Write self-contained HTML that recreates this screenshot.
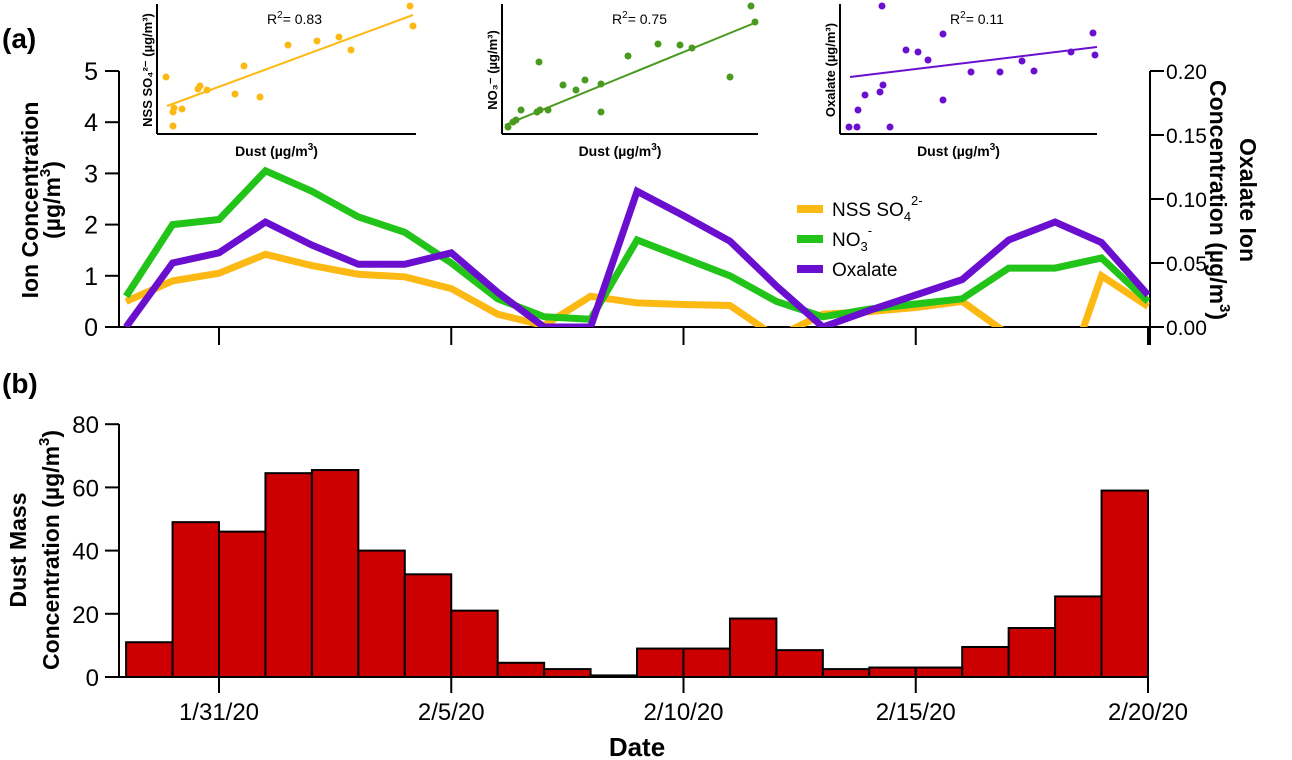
<!DOCTYPE html>
<html><head><meta charset="utf-8"><style>
html,body{margin:0;padding:0;background:#fff;}
svg{display:block;font-family:"Liberation Sans",sans-serif;}
</style></head><body>
<svg id="chart" width="1292" height="760" viewBox="0 0 1292 760"></svg>
<script>
// ---- data ----
const dayLabels = ["1/31/20","2/5/20","2/10/20","2/15/20","2/20/20"];
const dayTicks = [2,7,12,17,22];
const sulfate = [0.5,0.9,1.05,1.42,1.2,1.03,0.98,0.75,0.25,0.03,0.6,0.47,0.44,0.42,-0.2,0.25,0.3,0.38,0.5,-0.15,-1.6,1.0,0.4];
const nitrate = [0.6,2.0,2.1,3.05,2.65,2.15,1.85,1.25,0.55,0.2,0.15,1.7,1.35,1.0,0.5,0.2,0.35,0.45,0.55,1.15,1.15,1.35,0.5];
const oxalate = [0,0.05,0.058,0.082,0.064,0.049,0.049,0.058,0.027,0,0,0.106,0.087,0.067,0.032,0,0.013,0.025,0.037,0.068,0.082,0.066,0.025];
const dust = [11,49,46,64.5,65.5,40,32.5,21,4.5,2.5,0.5,9,9,18.5,8.5,2.5,3,3,9.5,15.5,25.5,59];
const leftTicks = [0,1,2,3,4,5];
const rightTicks = ["0.00","0.05","0.10","0.15","0.20"];
const dustTicks = [0,20,40,60,80];
// inset scatter data (relative units)
const in1Dust = [9,16,16,17,25,41,43,50,78,87,103,131,160,182,194,253,256];
const in1Val = [57,8,22,26,25,45,48,44,40,68,37,89,93,97,84,128,108];
const in2Dust = [6,11,14,19,35,38,46,37,61,74,83,99,99,126,156,178,190,228,249,253];
const in2Val = [7,12,14,24,22,24,24,72,49,44,54,22,50,78,90,89,86,57,128,112];
const in3Dust = [9,17,18,25,40,43,42,50,66,78,88,103,103,131,160,182,194,231,253,255];
const in3Val = [7,7,24,39,42,49,128,7,84,82,74,100,34,62,62,73,63,82,101,79];

const svg = document.getElementById('chart');
const NS = 'http://www.w3.org/2000/svg';
function mk(tag, attrs, parent, txt){
  const e = document.createElementNS(NS, tag);
  for (const k in attrs) e.setAttribute(k, attrs[k]);
  if (txt !== undefined) e.textContent = txt;
  (parent || svg).appendChild(e);
  return e;
}
const X = d => 126.1 + d * 46.45;
const YL = v => 327 - v * 51.2;
const YR = v => 327 - v * 1280;
const YD = v => 677 - v * 3.16;

const defs = mk('defs', {});
const cp = mk('clipPath', {id:'topclip'}, defs);
mk('rect', {x:119, y:40, width:1031, height:287}, cp);

// ---- panel (a) ----
const gA = mk('g', {});


const lbA = mk('text', {x:2, y:48, 'font-size':28, 'font-weight':'bold'}, gA, '(a)');



mk('line', {x1:119, y1:71, x2:119, y2:327, stroke:'#000', 'stroke-width':2}, gA);
mk('line', {x1:119, y1:327, x2:1150, y2:327, stroke:'#000', 'stroke-width':2}, gA);
mk('line', {x1:1150, y1:71, x2:1150, y2:345, stroke:'#000', 'stroke-width':2}, gA);
leftTicks.forEach(t => {
  mk('line', {x1:105, y1:YL(t), x2:119, y2:YL(t), stroke:'#000', 'stroke-width':2}, gA);
  const tl = mk('text', {x:98, y:YL(t)+9, 'font-size':25, 'text-anchor':'end'}, gA, String(t));
  
  
});
rightTicks.forEach(t => {
  const y = YR(parseFloat(t));
  mk('line', {x1:1150, y1:y, x2:1164, y2:y, stroke:'#000', 'stroke-width':2}, gA);
  const tl = mk('text', {x:1166, y:y+8, 'font-size':21}, gA, t);
  
  
});
dayTicks.forEach(d => {
  mk('line', {x1:X(d), y1:327, x2:X(d), y2:345, stroke:'#000', 'stroke-width':2}, gA);
});
const yA = mk('text', {transform:'translate(38,200) rotate(-90)', 'font-size':23, 'font-weight':'bold', 'text-anchor':'middle'}, gA);


mk('tspan', {x:0, dy:0}, yA, 'Ion Concentration');
mk('tspan', {x:0, dy:22}, yA, '(µg/m');
mk('tspan', {dy:-10, 'font-size':15}, yA, '3');
mk('tspan', {dy:10}, yA, ')');
const yR = mk('text', {transform:'translate(1240,200) rotate(90)', 'font-size':23, 'font-weight':'bold', 'text-anchor':'middle'}, gA);


mk('tspan', {x:0, dy:0}, yR, 'Oxalate Ion');
mk('tspan', {x:0, dy:30}, yR, 'Concentration (µg/m');
mk('tspan', {dy:-10, 'font-size':15}, yR, '3');
mk('tspan', {dy:10}, yR, ')');

function line(vals, yf, color, name){
  const pts = vals.map((v,i) => X(i).toFixed(1) + ',' + yf(v).toFixed(1)).join(' ');
  const p = mk('polyline', {points:pts, fill:'none', stroke:color, 'stroke-width':7, 'stroke-linejoin':'miter', 'clip-path':'url(#topclip)'}, gA);
  
  
}
line(sulfate, YL, '#fdb913', 'sulfate-line');
line(nitrate, YL, '#22c41a', 'nitrate-line');
line(oxalate, YR, '#6a0fcf', 'oxalate-line');

const leg = mk('g', {}, gA);


const legItems = [['#fdb913','NSS SO','4','2-'],['#22c41a','NO','3','-'],['#6a0fcf','Oxalate','','']];
legItems.forEach((it,i) => {
  const y = 209 + i*30;
  const r = mk('rect', {x:797, y:y-4, width:26, height:8, fill:it[0]}, leg);
  
  
  const t = mk('text', {x:832, y:y+7, 'font-size':19}, leg, it[1]);
  
  
  if (it[2]) mk('tspan', {dy:5, 'font-size':13}, t, it[2]);
  if (it[3]) mk('tspan', {dy:-16, 'font-size':13}, t, it[3]);
});

function inset(x0, x1, bottom, dx, dy, color, fit, r2, ylab, name){
  const g = mk('g', {}, gA);
  
  
  mk('line', {x1:x0, y1:4, x2:x0, y2:bottom, stroke:'#000', 'stroke-width':2}, g);
  mk('line', {x1:x0, y1:bottom, x2:x1, y2:bottom, stroke:'#000', 'stroke-width':2}, g);
  dx.forEach((d,i) => {
    const c = mk('circle', {cx:x0+d, cy:bottom-dy[i], r:3.5, fill:color}, g);
    
    
  });
  mk('line', {x1:x0+fit[0], y1:bottom-fit[1], x2:x0+fit[2], y2:bottom-fit[3], stroke:color, 'stroke-width':2}, g);
  const rt = mk('text', {x:x0+110, y:24, 'font-size':14}, g, 'R');
  mk('tspan', {dy:-6, 'font-size':10}, rt, '2');
  mk('tspan', {dy:6}, rt, '= ' + r2);
  const xl = mk('text', {x:(x0+x1)/2 - 10, y:bottom+22, 'font-size':14, 'font-weight':'bold', 'text-anchor':'middle'}, g, 'Dust (µg/m');
  mk('tspan', {dy:-6, 'font-size':10}, xl, '3');
  mk('tspan', {dy:6}, xl, ')');
  mk('text', {transform:'translate(' + (x0-5) + ',' + (bottom-64) + ') rotate(-90)', 'font-size':13, 'font-weight':'bold', 'text-anchor':'middle'}, g, ylab);
  return g;
}
inset(157, 416, 134, in1Dust, in1Val, '#fdb913', [10,28,256,119], '0.83', 'NSS SO₄²⁻ (µg/m³)', 'inset-sulfate');
inset(502, 758, 134, in2Dust, in2Val, '#4a9a1e', [3,9,255,112], '0.75', 'NO₃⁻ (µg/m³)', 'inset-nitrate');
inset(840, 1097, 134, in3Dust, in3Val, '#6a0fcf', [10,57,257,87], '0.11', 'Oxalate (µg/m³)', 'inset-oxalate');

// ---- panel (b) ----
const gB = mk('g', {});


const lbB = mk('text', {x:2, y:393, 'font-size':28, 'font-weight':'bold'}, gB, '(b)');


dust.forEach((v,i) => {
  const b = mk('rect', {x:X(i), y:YD(v), width:X(i+1)-X(i), height:677-YD(v), fill:'#cc0000', stroke:'#000', 'stroke-width':2}, gB);
  
  
});
mk('line', {x1:119, y1:424, x2:119, y2:677, stroke:'#000', 'stroke-width':2}, gB);
mk('line', {x1:119, y1:677, x2:1149, y2:677, stroke:'#000', 'stroke-width':2}, gB);
dustTicks.forEach(t => {
  mk('line', {x1:105, y1:YD(t), x2:119, y2:YD(t), stroke:'#000', 'stroke-width':2}, gB);
  const tl = mk('text', {x:99, y:YD(t)+9, 'font-size':24, 'text-anchor':'end'}, gB, String(t));
  
  
});
dayTicks.forEach((d,i) => {
  mk('line', {x1:X(d), y1:677, x2:X(d), y2:693, stroke:'#000', 'stroke-width':2}, gB);
  const tl = mk('text', {x:X(d), y:720, 'font-size':24, 'text-anchor':'middle'}, gB, dayLabels[i]);
  
  
});
const xt = mk('text', {x:637, y:756, 'font-size':26, 'font-weight':'bold', 'text-anchor':'middle'}, gB, 'Date');


const yB = mk('text', {transform:'translate(26,550) rotate(-90)', 'font-size':23, 'font-weight':'bold', 'text-anchor':'middle'}, gB);


mk('tspan', {x:0, dy:0}, yB, 'Dust Mass');
mk('tspan', {x:0, dy:33}, yB, 'Concentration (µg/m');
mk('tspan', {dy:-10, 'font-size':15}, yB, '3');
mk('tspan', {dy:10}, yB, ')');
</script>
</body></html>
